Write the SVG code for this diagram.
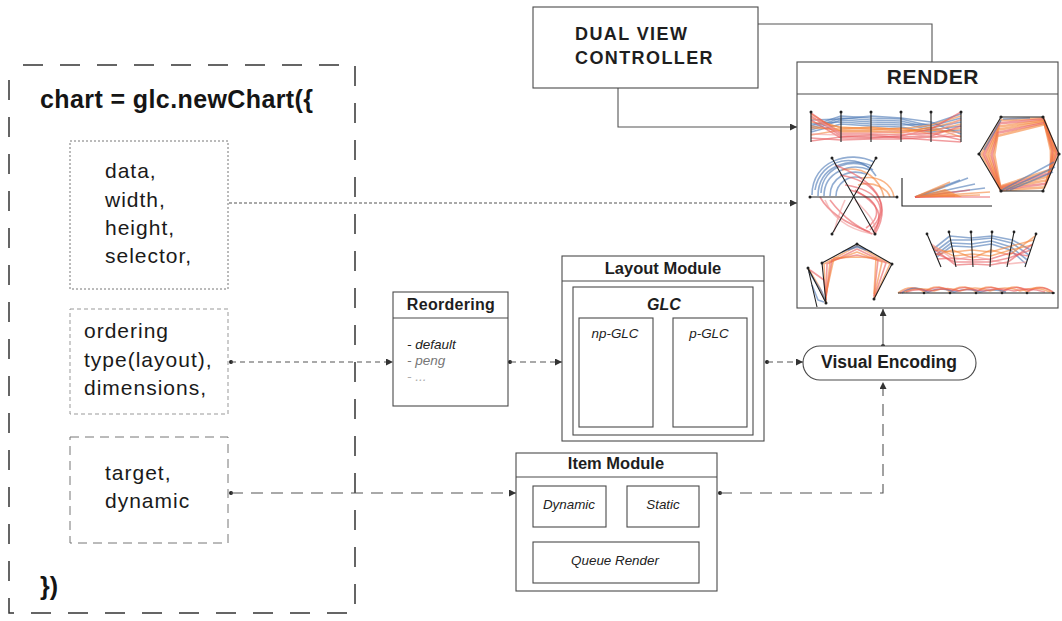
<svg xmlns="http://www.w3.org/2000/svg" width="1062" height="621" viewBox="0 0 1062 621">
  <style>
    .sans { font-family: "Liberation Sans", Arial, sans-serif; }
    .box { fill: #fff; stroke: #4a4a4a; stroke-width: 1.1; }
    .title { font-family: "Liberation Sans", Arial, sans-serif; font-weight: bold; fill: #1e1e1e; text-anchor: middle; }
    .item { font-family: "Liberation Sans", Arial, sans-serif; font-style: italic; fill: #222; text-anchor: middle; font-size: 13.4px; }
    .param { font-family: "Liberation Sans", Arial, sans-serif; font-size: 21px; letter-spacing: 1px; fill: #1a1a1a; }
    .conn { fill: none; stroke: #555; stroke-width: 1.1; }
    .axis { stroke: #222; stroke-width: 1.1; fill: none; }
    .pc { fill: none; stroke-width: 1.6; stroke-opacity: 0.6; stroke-linejoin: round; }
    .thick { stroke-width: 2.6; }
    .b { stroke: #4a77b4; }
    .o { stroke: #f5863a; }
    .r { stroke: #e85a5e; }
    .p { stroke: #f29a9a; }
    .vx { fill: #222; }
  </style>
  <defs>
    <marker id="arrow" viewBox="0 0 8 8" refX="8" refY="4" markerWidth="7" markerHeight="7" markerUnits="userSpaceOnUse" orient="auto">
      <path d="M0,0 L8,4 L0,8 z" fill="#333"/>
    </marker>
  </defs>

  <rect width="1062" height="621" fill="#fff"/>

  <!-- chart definition call -->
  <g id="chart-call">
    <rect x="9" y="65" width="346" height="548" fill="none" stroke="#333" stroke-width="1.5" stroke-dasharray="20 17" stroke-dashoffset="-14"/>
    <text x="40" y="108" class="sans" font-size="25" font-weight="bold" letter-spacing="0.4" fill="#151515">chart = glc.newChart({</text>
    <text x="40" y="595" class="sans" font-size="25" font-weight="bold" fill="#151515">})</text>
  </g>

  <g id="params-basic">
    <rect x="70" y="141" width="158" height="148" fill="none" stroke="#777" stroke-width="1" stroke-dasharray="2 2"/>
    <text class="param" x="105" y="178">data,</text>
    <text class="param" x="105" y="207">width,</text>
    <text class="param" x="105" y="235">height,</text>
    <text class="param" x="105" y="263">selector,</text>
  </g>

  <g id="params-layout">
    <rect x="70" y="309" width="158" height="105" fill="none" stroke="#999" stroke-width="1" stroke-dasharray="4 3"/>
    <text class="param" x="84" y="338">ordering</text>
    <text class="param" x="84" y="367" fill="#333">type(layout),</text>
    <text class="param" x="84" y="395">dimensions,</text>
  </g>

  <g id="params-items">
    <rect x="70" y="437" width="158" height="106" fill="none" stroke="#777" stroke-width="1" stroke-dasharray="9 6"/>
    <text class="param" x="105" y="480">target,</text>
    <text class="param" x="105" y="508">dynamic</text>
  </g>

  <!-- connectors -->
  <g id="connectors">
    <line x1="229" y1="203" x2="797" y2="203" class="conn" stroke-width="1" stroke-dasharray="3 2" marker-end="url(#arrow)"/>
    <circle cx="231" cy="362" r="2" fill="#222"/>
    <line x1="231" y1="362" x2="393" y2="362" class="conn" stroke="#777" stroke-dasharray="5 4" marker-end="url(#arrow)"/>
    <circle cx="231" cy="493" r="2" fill="#222"/>
    <line x1="231" y1="493" x2="516" y2="493" class="conn" stroke="#888" stroke-dasharray="12 8" marker-end="url(#arrow)"/>
    <circle cx="510" cy="362" r="2" fill="#222"/>
    <line x1="510" y1="362" x2="562" y2="362" class="conn" stroke="#777" stroke-dasharray="6 4" marker-end="url(#arrow)"/>
    <circle cx="767" cy="362" r="2" fill="#222"/>
    <line x1="767" y1="362" x2="803" y2="362" class="conn" stroke="#999" stroke-dasharray="6 4" marker-end="url(#arrow)"/>
    <circle cx="720" cy="493" r="2" fill="#222"/>
    <path d="M720,493 H883 V382" class="conn" stroke="#999" stroke-dasharray="12 8" marker-end="url(#arrow)"/>
    <circle cx="883" cy="346" r="2" fill="#222"/>
    <line x1="883" y1="346" x2="883" y2="309" class="conn" stroke="#444" marker-end="url(#arrow)"/>
    <path d="M758,24 H932 V62" class="conn" stroke="#555"/>
    <path d="M618,88 V127 H797" class="conn" stroke="#555" marker-end="url(#arrow)"/>
  </g>

  <g id="dual-view-controller">
    <rect x="533" y="7" width="225" height="81" class="box"/>
    <text x="575" y="40" class="sans" font-size="18" font-weight="bold" letter-spacing="1.4" fill="#1e1e1e">DUAL VIEW</text>
    <text x="575" y="64" class="sans" font-size="18" font-weight="bold" letter-spacing="1.4" fill="#1e1e1e">CONTROLLER</text>
  </g>

  <g id="reordering">
    <rect x="393" y="292" width="115" height="114" class="box"/>
    <line x1="393" y1="318" x2="508" y2="318" stroke="#4a4a4a" stroke-width="1.1"/>
    <text x="451" y="310" class="title" font-size="16" letter-spacing="0.3">Reordering</text>
    <text x="407" y="349" class="sans" font-size="13.5" font-style="italic" fill="#222">- default</text>
    <text x="407" y="365" class="sans" font-size="13.5" font-style="italic" fill="#555" opacity="0.8">- peng</text>
    <text x="407" y="381" class="sans" font-size="13.5" font-style="italic" fill="#777" opacity="0.6">- ...</text>
  </g>

  <g id="layout-module">
    <rect x="562" y="256" width="202" height="185" class="box"/>
    <line x1="562" y1="281" x2="764" y2="281" stroke="#4a4a4a" stroke-width="1.1"/>
    <text x="663" y="274" class="title" font-size="16.5">Layout Module</text>
    <rect x="573" y="287" width="180" height="148" class="box"/>
    <text x="664" y="310" class="title" font-size="16" font-style="italic">GLC</text>
    <rect x="579" y="318" width="74" height="109" class="box"/>
    <text x="615" y="338" class="item" font-size="13">np-GLC</text>
    <rect x="673" y="318" width="74" height="109" class="box"/>
    <text x="709" y="338" class="item" font-size="13">p-GLC</text>
  </g>

  <g id="item-module">
    <rect x="516" y="453" width="201" height="138" class="box"/>
    <line x1="516" y1="477" x2="717" y2="477" stroke="#4a4a4a" stroke-width="1.1"/>
    <text x="616" y="469" class="title" font-size="16.5">Item Module</text>
    <rect x="533" y="486" width="73" height="41" class="box"/>
    <text x="569" y="509" class="item">Dynamic</text>
    <rect x="627" y="486" width="72" height="41" class="box"/>
    <text x="663" y="509" class="item">Static</text>
    <rect x="533" y="542" width="166" height="41" class="box"/>
    <text x="615" y="565" class="item">Queue Render</text>
  </g>

  <g id="visual-encoding">
    <rect x="803" y="346" width="173" height="34" rx="17" ry="17" class="box"/>
    <text x="889" y="368" class="title" font-size="17.5">Visual Encoding</text>
  </g>

  <g id="render">
    <rect x="797" y="62" width="261" height="246" class="box"/>
    <line x1="797" y1="94" x2="1058" y2="94" stroke="#4a4a4a" stroke-width="1.1"/>
    <text x="933" y="84" class="title" font-size="21" letter-spacing="0.6">RENDER</text>

    <!-- parallel coordinates -->
    <g>
      <polyline class="pc b" points="811,126 841,116 871,118 901,119 931,126 961,118"/>
      <polyline class="pc b" points="811,128 841,118 871,120 901,121 931,128 961,122"/>
      <polyline class="pc b" points="811,130 841,120 871,122 901,123 931,130 961,126"/>
      <polyline class="pc b" points="811,124 841,122 871,124 901,125 931,124 961,114"/>
      <polyline class="pc b" points="811,132 841,124 871,126 901,127 931,132 961,130"/>
      <polyline class="pc b" points="811,120 841,119 871,116 901,118 931,122 961,134"/>
      <polyline class="pc o" points="811,118 841,128 871,128 901,129 931,125 961,116"/>
      <polyline class="pc o" points="811,122 841,127 871,129 901,131 931,128 961,120"/>
      <polyline class="pc o" points="811,128 841,129 871,127 901,130 931,131 961,124"/>
      <polyline class="pc o" points="811,135 841,130 871,130 901,128 931,134 961,128"/>
      <polyline class="pc o" points="811,126 841,131 871,131 901,132 931,130 961,132"/>
      <polyline class="pc o" points="811,114 841,132 871,132 901,133 931,127 961,137"/>
      <polyline class="pc r" points="811,113 841,134 871,134 901,135 931,133 961,140"/>
      <polyline class="pc r" points="811,116 841,136 871,137 901,137 931,136 961,126"/>
      <polyline class="pc r" points="811,120 841,138 871,138 901,136 931,129 961,112"/>
      <polyline class="pc r" points="811,138 841,140 871,139 901,139 931,137 961,136"/>
      <polyline class="pc r" points="811,141 841,137 871,135 901,138 931,140 961,142"/>
      <polyline class="pc p" points="811,134 841,135 871,136 901,134 931,135 961,119"/>
      <polyline class="pc p" points="811,117 841,133 871,133 901,131 931,138 961,131"/>
      <path class="axis" d="M811,112V142 M841,112V142 M871,112V142 M901,112V142 M931,112V142 M961,112V142"/>
      <g class="vx">
        <circle cx="811" cy="112" r="1.5"/><circle cx="841" cy="112" r="1.5"/><circle cx="871" cy="112" r="1.5"/>
        <circle cx="901" cy="112" r="1.5"/><circle cx="931" cy="112" r="1.5"/><circle cx="961" cy="112" r="1.5"/>
      </g>
    </g>

    <!-- hexagon -->
    <g>
      <polygon class="pc thick o" points="1000.4,120.2 1043.3,118.2 1057.7,153.4 1044.4,187.4 1000.9,190.3 981.6,154.2"/>
      <polygon class="pc thick r" points="999.8,123.3 1043.6,119.4 1056.3,152.8 1045.7,183.8 1000.7,189.5 984.1,154.3"/>
      <polygon class="pc thick o" points="999.2,126.5 1043.9,120.6 1055,152.2 1047,180.2 1000.6,188.8 986.7,154.5"/>
      <polygon class="pc thick o" points="998.6,129.6 1044.2,121.8 1053.6,151.6 1048.4,176.6 1000.4,188 989.2,154.6"/>
      <polygon class="pc thick r" points="998,132.8 1044.5,123 1052.3,151 1049.8,173 1000.3,187.3 991.8,154.8"/>
      <polygon class="pc thick o" points="997.4,135.9 1044.8,124.2 1050.9,150.4 1051.1,169.4 1000.1,186.5 994.3,154.9"/>
      <polyline class="pc b" points="1002,190 1054,162"/>
      <polyline class="pc b" points="1006,190 1055,167"/>
      <polyline class="pc b" points="1010,190 1053,172"/>
      <polyline class="pc b" points="1001,120 984,150"/>
      <polyline class="pc b" points="1003,119 1030,118"/>
      <polygon class="axis" points="1001,117 1043,117 1059,154 1043,191 1001,191 979,154"/>
      <g class="vx">
        <circle cx="1001" cy="117" r="1.6"/><circle cx="1043" cy="117" r="1.6"/><circle cx="1059" cy="154" r="1.6"/>
        <circle cx="1043" cy="191" r="1.6"/><circle cx="1001" cy="191" r="1.6"/><circle cx="979" cy="154" r="1.6"/>
      </g>
    </g>

    <!-- radial star -->
    <g>
      <path class="pc b" d="M812,195 C812,160 850,150 874,162"/>
      <path class="pc b" d="M818,196 C818,166 850,156 872,166"/>
      <path class="pc b" d="M824,196 C824,172 850,162 870,170"/>
      <path class="pc b" d="M830,196 C830,178 848,168 866,174"/>
      <path class="pc b" d="M836,196 C836,184 848,174 862,178"/>
      <path class="pc b" d="M815,190 C820,158 860,150 876,176"/>
      <path class="pc b" d="M821,193 C822,165 856,156 873,170"/>
      <path class="pc o" d="M862,178 C880,175 892,185 894,197"/>
      <path class="pc o" d="M858,185 C875,180 888,190 890,197"/>
      <path class="pc o" d="M842,170 C865,165 880,180 884,197"/>
      <path class="pc r" d="M840,175 C870,180 895,200 873,232"/>
      <path class="pc r" d="M845,185 C880,190 890,210 870,230"/>
      <path class="pc r" d="M850,190 C885,200 880,220 866,228"/>
      <path class="pc r" d="M820,197 C830,215 850,225 870,232"/>
      <path class="pc r" d="M830,200 C845,220 860,228 872,234"/>
      <path class="pc r" d="M835,165 C860,175 898,195 875,234"/>
      <path class="pc r" d="M855,190 C880,205 884,215 874,233"/>
      <path class="pc p" d="M845,200 C838,215 836,225 834,232"/>
      <path class="pc p" d="M855,200 C870,215 878,225 874,233"/>
      <path class="pc p" d="M825,200 C835,225 860,232 875,234"/>
      <path class="axis" d="M810,197H897 M832,158L875,234 M876,158L832,234"/>
      <g class="vx">
        <circle cx="810" cy="197" r="1.5"/><circle cx="897" cy="197" r="1.5"/><circle cx="832" cy="158" r="1.5"/>
        <circle cx="876" cy="158" r="1.5"/><circle cx="832" cy="234" r="1.5"/><circle cx="875" cy="234" r="1.5"/>
      </g>
    </g>

    <!-- fan chart -->
    <g>
      <polyline class="pc b" points="915,197 960,180"/>
      <polyline class="pc b" points="915,197 975,184"/>
      <polyline class="pc b" points="915,197 985,188"/>
      <polyline class="pc b" points="918,197 968,178"/>
      <polyline class="pc o" points="915,197 950,182"/>
      <polyline class="pc o" points="915,197 990,192"/>
      <polyline class="pc o" points="915,197 980,195"/>
      <polyline class="pc o" points="915,197 945,186"/>
      <polyline class="pc r" points="915,197 970,190"/>
      <polyline class="pc r" points="915,197 990,197"/>
      <polyline class="pc r" points="915,197 955,196"/>
      <path d="M915,197 L945,189 L962,197 Z" fill="#f5863a" opacity="0.7"/>
      <path class="axis" d="M902,178V206H992"/>
    </g>

    <!-- slanted parallel coordinates -->
    <g>
      <polyline class="pc b" points="934.6,252 950.6,240 971.5,240 991.7,238 1011.8,243 1029,255"/>
      <polyline class="pc b" points="935.8,255 951.2,243 971.7,244 991.5,241 1011,247 1027.3,260"/>
      <polyline class="pc b" points="933.4,249 949.8,236 971.3,238 991.8,236 1012.4,240 1030.7,250"/>
      <polyline class="pc b" points="936.8,257 951.8,246 971.9,247 991.3,244 1010.4,250 1026,264"/>
      <polyline class="pc o" points="933.8,250 953,252 972,250 990.9,252 1011.2,246 1034,240"/>
      <polyline class="pc o" points="932.1,246 953.8,256 972.3,254 990.6,256 1010.4,250 1032.3,245"/>
      <polyline class="pc o" points="935.9,255 952.6,250 972.5,258 991,250 1009.4,255 1035.3,236"/>
      <polyline class="pc r" points="935,253 955,262 972.7,262 990.3,262 1008.8,258 1030.7,250"/>
      <polyline class="pc r" points="932.9,248 955.6,265 972.8,264 990.1,265 1008,262 1032.7,244"/>
      <polyline class="pc r" points="937.6,259 954.2,258 972.6,260 990.5,259 1009.8,253 1028.7,256"/>
      <polyline class="pc p" points="931.2,244 954.6,260 972.4,256 990.4,260 1007.6,264 1026.7,262"/>
      <path class="axis" d="M927,234L941,267 M949,232L956,267 M971,232L973,267 M992,232L990,267 M1014,232L1007,267 M1036,234L1025,267"/>
      <g class="vx">
        <circle cx="927" cy="234" r="1.4"/><circle cx="949" cy="232" r="1.4"/><circle cx="971" cy="232" r="1.4"/>
        <circle cx="992" cy="232" r="1.4"/><circle cx="1014" cy="232" r="1.4"/><circle cx="1036" cy="234" r="1.4"/>
      </g>
    </g>

    <!-- shifted polygon chart -->
    <g>
      <polyline class="pc o" points="826,302 824,264 857,246 890,264 874,299"/>
      <polyline class="pc r" points="826,300 827,264 857,249 886,263 874,298"/>
      <polyline class="pc o" points="826,298 830,262 857,252 882,262 874,297"/>
      <polyline class="pc r" points="826,296 832,260 857,255 878,260 874,296"/>
      <polyline class="pc o" points="826,294 834,258 857,257 876,258 874,294"/>
      <polyline class="pc b" points="842,252 857,246 872,252"/>
      <polyline class="pc b" points="848,250 857,247 866,250"/>
      <polyline class="pc o" points="808,268 820,288 826,303"/>
      <polyline class="pc b" points="809,272 822,292 825,300"/>
      <polyline class="pc r" points="810,270 824,280 826,296"/>
      <polyline class="pc b" points="812,285 818,300 824,302"/>
      <path class="axis" d="M808,268L817,307 M808,268L826,303 M822,263L826,303 M822,263L857,244L892,264L874,299"/>
      <g class="vx">
        <circle cx="808" cy="268" r="1.5"/><circle cx="822" cy="263" r="1.5"/><circle cx="857" cy="244" r="1.5"/>
        <circle cx="892" cy="264" r="1.5"/><circle cx="874" cy="299" r="1.5"/><circle cx="826" cy="303" r="1.5"/>
      </g>
    </g>

    <!-- wave chart -->
    <g>
      <path class="pc o" d="M898,293 Q911,283 924,292 Q937,282 950,292 Q963,282 976,292 Q989,282 1002,292 Q1015,282 1027,292 Q1040,282 1053,293"/>
      <path class="pc r" d="M900,293 Q913,285 926,291 Q939,284 952,291 Q965,284 978,291 Q991,284 1004,291 Q1017,284 1029,291 Q1042,284 1053,292"/>
      <path class="pc b" d="M902,293 Q915,284 928,292 Q941,286 954,292 Q967,287 980,292 Q993,288 1006,292"/>
      <path class="pc o" d="M904,292 Q920,286 934,291 Q948,286 960,291 Q975,285 990,291 Q1005,285 1020,291 Q1035,285 1050,292"/>
      <path class="pc r" d="M906,292 Q918,288 930,291 Q945,287 958,291 Q970,288 984,291 Q1000,287 1014,291 Q1030,287 1045,292"/>
      <path class="axis" d="M898,293H1055"/>
      <g class="vx">
        <circle cx="924" cy="293" r="1.3"/><circle cx="950" cy="293" r="1.3"/><circle cx="976" cy="293" r="1.3"/>
        <circle cx="1002" cy="293" r="1.3"/><circle cx="1027" cy="293" r="1.3"/><circle cx="1053" cy="293" r="1.3"/>
      </g>
    </g>
  </g>
</svg>
